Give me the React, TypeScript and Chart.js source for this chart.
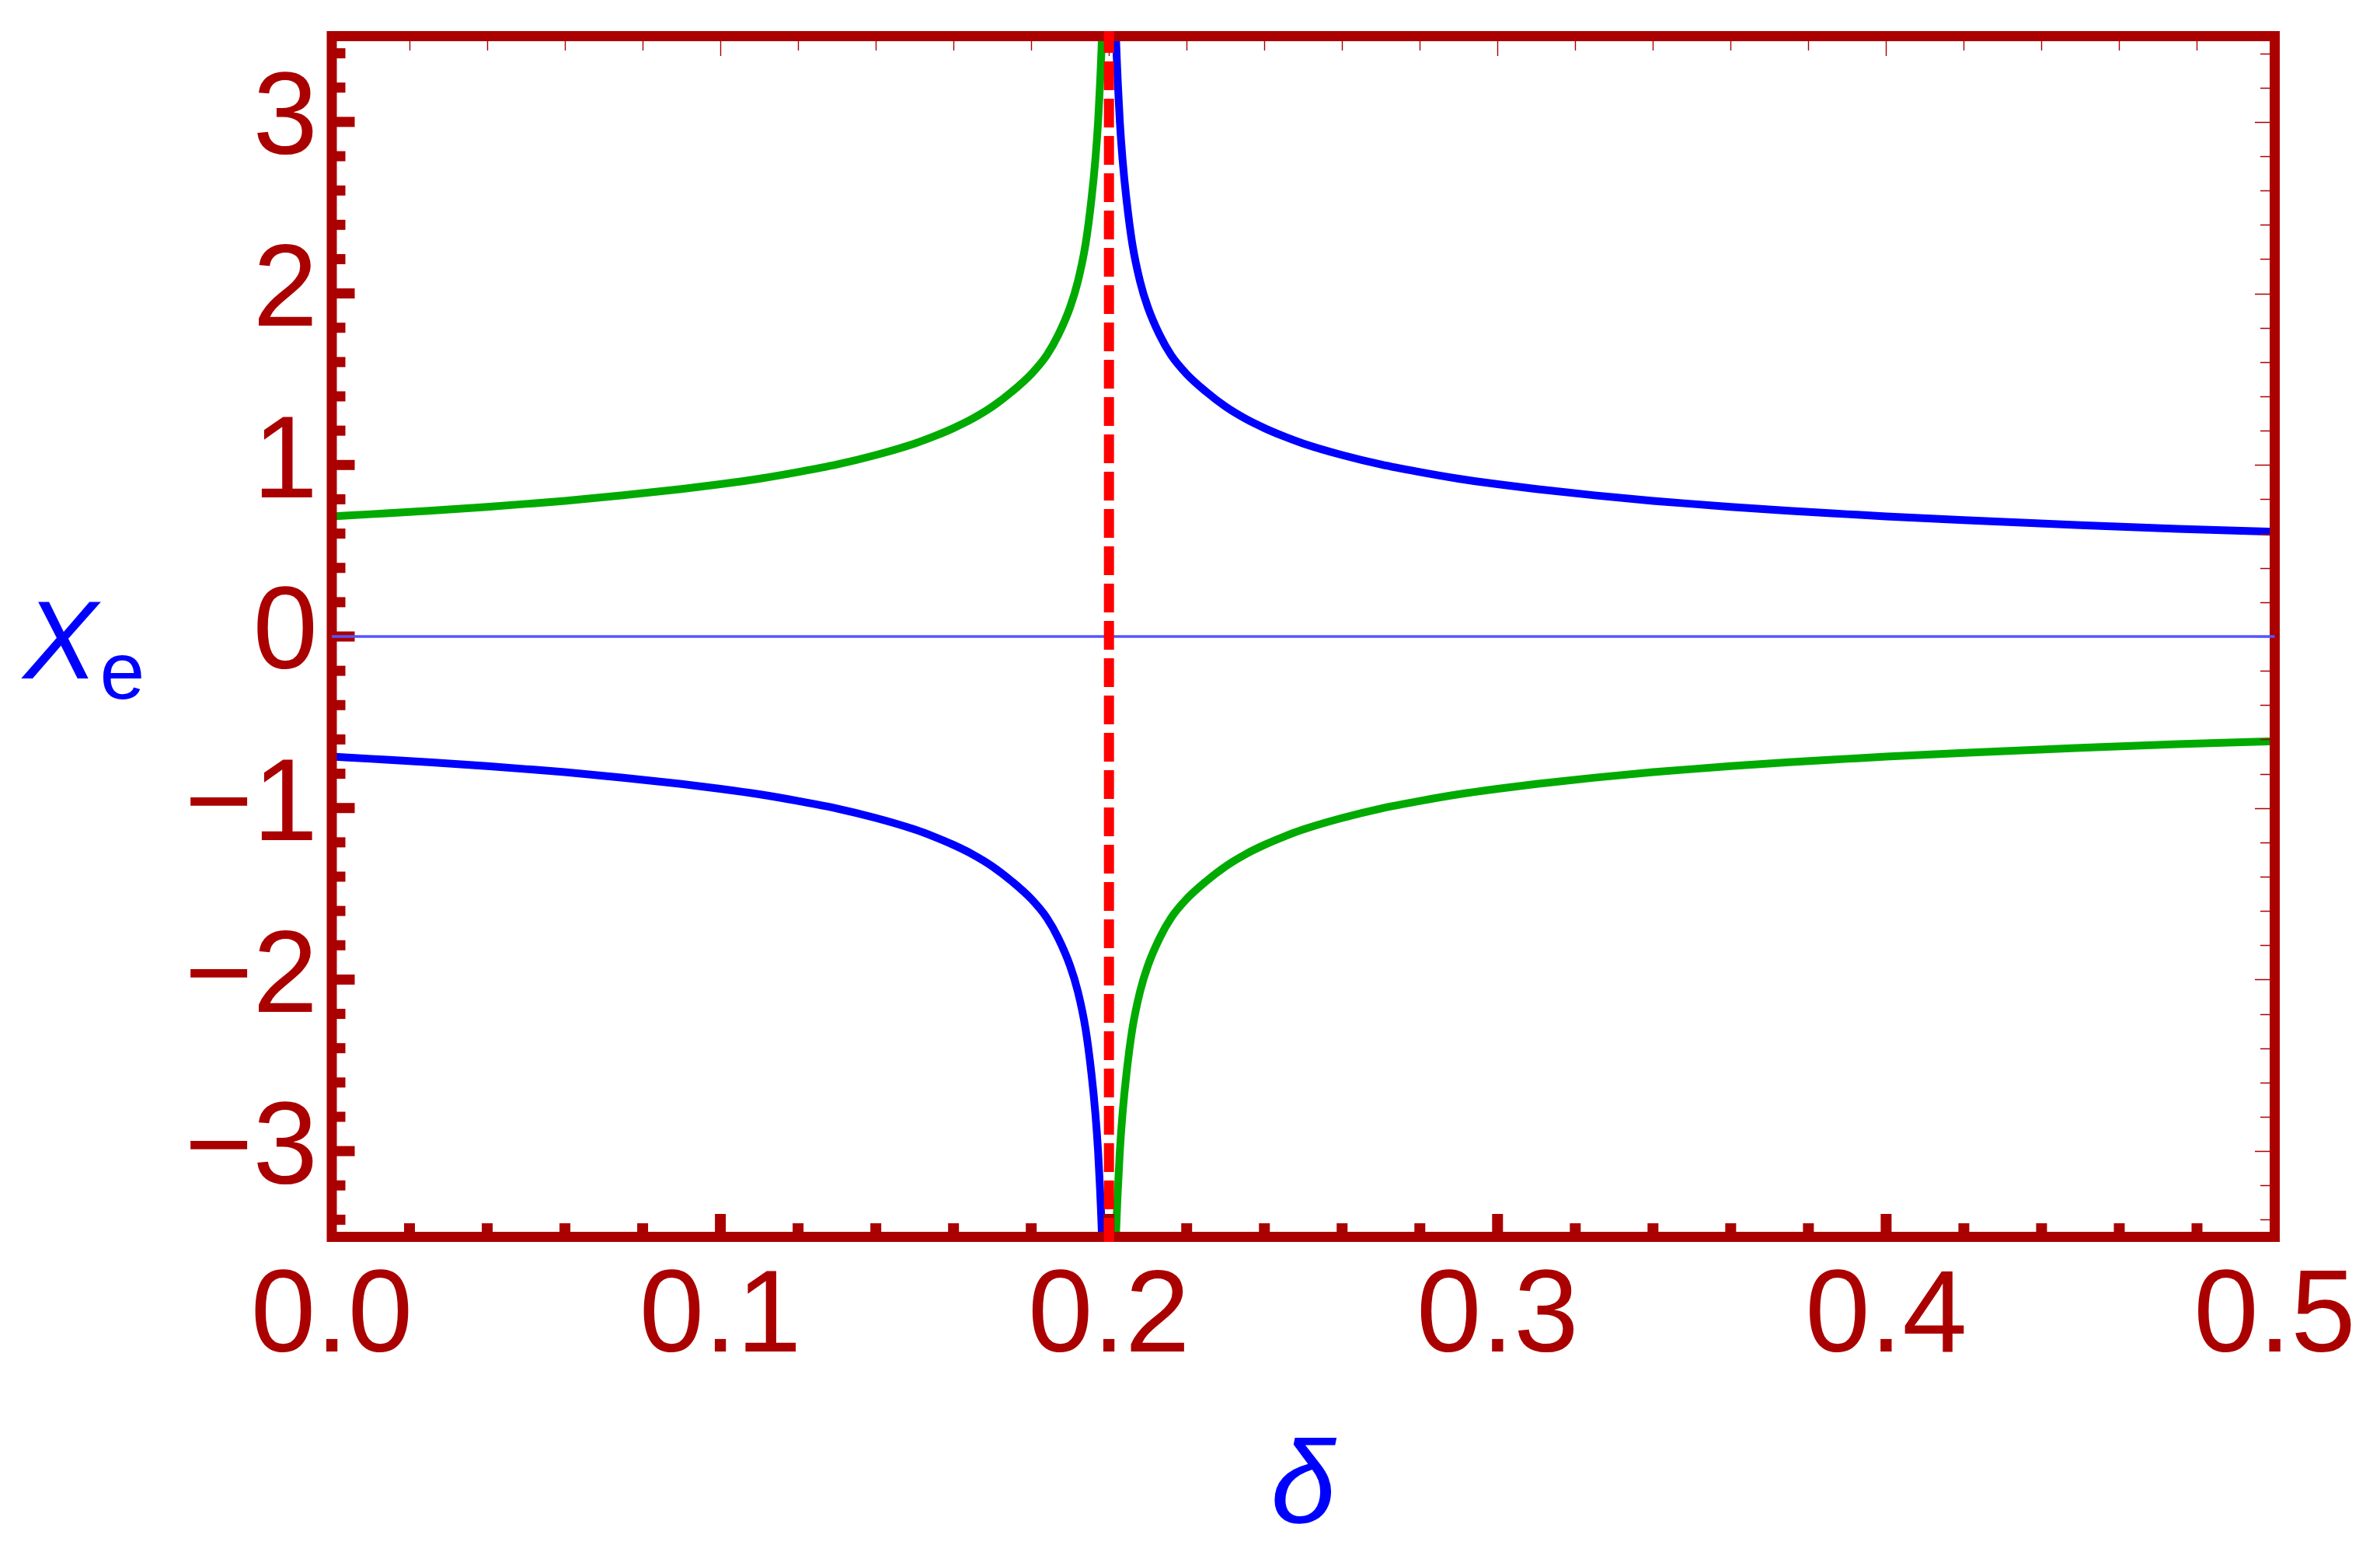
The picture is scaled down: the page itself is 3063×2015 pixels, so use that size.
import { useEffect, useRef } from 'react';
import { Chart, registerables } from 'chart.js';

Chart.register(...registerables);

// ---- data ----
// left branch (delta < 0.2)
const deltaLeft = [0, 0.01, 0.025, 0.04, 0.05, 0.06, 0.075, 0.09, 0.1, 0.11, 0.12, 0.13, 0.14, 0.15, 0.155, 0.16, 0.165, 0.17, 0.175, 0.18, 0.184, 0.187, 0.19, 0.192, 0.194, 0.1955, 0.1965, 0.1972, 0.1977, 0.1982, 0.1987];
const greenLeft = [0.700, 0.713, 0.733, 0.756, 0.773, 0.791, 0.823, 0.860, 0.888, 0.920, 0.959, 1.003, 1.058, 1.125, 1.167, 1.215, 1.271, 1.340, 1.427, 1.53, 1.64, 1.76, 1.92, 2.07, 2.29, 2.55, 2.78, 3.0, 3.22, 3.5, 3.92];
const blueLeft = [-0.700, -0.713, -0.733, -0.756, -0.773, -0.791, -0.823, -0.860, -0.888, -0.920, -0.959, -1.003, -1.058, -1.125, -1.167, -1.215, -1.271, -1.340, -1.427, -1.53, -1.64, -1.76, -1.92, -2.07, -2.29, -2.55, -2.78, -3.0, -3.22, -3.5, -3.92];
// right branch (delta > 0.2)
const deltaRight = [0.2013, 0.2018, 0.2023, 0.2028, 0.2035, 0.2045, 0.206, 0.208, 0.21, 0.213, 0.216, 0.22, 0.225, 0.23, 0.235, 0.24, 0.245, 0.25, 0.26, 0.27, 0.28, 0.29, 0.3, 0.31, 0.325, 0.34, 0.35, 0.36, 0.375, 0.39, 0.4, 0.42, 0.45, 0.475, 0.5];
const blueRight = [3.92, 3.5, 3.22, 3.0, 2.78, 2.55, 2.29, 2.07, 1.92, 1.76, 1.64, 1.53, 1.427, 1.340, 1.271, 1.215, 1.167, 1.125, 1.058, 1.003, 0.959, 0.920, 0.888, 0.860, 0.823, 0.791, 0.773, 0.756, 0.733, 0.713, 0.700, 0.678, 0.649, 0.628, 0.61];
const greenRight = [-3.92, -3.5, -3.22, -3.0, -2.78, -2.55, -2.29, -2.07, -1.92, -1.76, -1.64, -1.53, -1.427, -1.340, -1.271, -1.215, -1.167, -1.125, -1.058, -1.003, -0.959, -0.920, -0.888, -0.860, -0.823, -0.791, -0.773, -0.756, -0.733, -0.713, -0.700, -0.678, -0.649, -0.628, -0.61];

const asymptoteDelta = 0.2;
const xRange = [0, 0.5];
const yRange = [-3.5, 3.5];
const xTickValues = [0, 0.1, 0.2, 0.3, 0.4, 0.5];
const xTickLabels = ['0.0', '0.1', '0.2', '0.3', '0.4', '0.5'];
const yTickValues = [-3, -2, -1, 0, 1, 2, 3];
const yTickLabels = ['\u22123', '\u22122', '\u22121', '0', '1', '2', '3'];

const FRAME = '#AA0000';
const GREEN = '#00AA00';
const BLUE = '#0000FF';
const ZERO = '#5555FF';
const RED = '#FF0000';
const FONT = '"Liberation Sans", Arial, sans-serif';

const pts = (xs: number[], ys: number[]) => xs.map((x, i) => ({ x, y: ys[i] }));

const framePlugin = {
  id: 'mmaFrame',
  beforeDatasetDraw(chart: any, args: any) {
    if (chart.data.datasets[args.index].label !== 'zero') return;
    const { ctx, chartArea: a, scales } = chart;
    const xs = scales.x;
    const ys = scales.y;
    const fw = 13;
    ctx.save();
    ctx.strokeStyle = FRAME;
    ctx.lineWidth = fw;
    ctx.lineJoin = 'miter';
    ctx.strokeRect(a.left, a.top, a.right - a.left, a.bottom - a.top);
    ctx.fillStyle = FRAME;
    for (let k = -17; k <= 17; k++) {
      const py = ys.getPixelForValue(k * 0.2);
      const len = fw / 2 + (k % 5 === 0 ? 23 : 11);
      ctx.fillRect(a.left, py - fw / 2, len, fw);
    }
    for (let k = 1; k <= 24; k++) {
      const px = xs.getPixelForValue(k * 0.02);
      const len = fw / 2 + (k % 5 === 0 ? 23 : 11);
      ctx.fillRect(px - 7, a.bottom - len, 14, len);
    }
    ctx.strokeStyle = FRAME;
    ctx.lineWidth = 1.4;
    ctx.beginPath();
    for (let k = 1; k <= 24; k++) {
      const px = Math.round(xs.getPixelForValue(k * 0.02)) + 0.5;
      const len = k % 5 === 0 ? 19 : 12;
      ctx.moveTo(px, a.top + fw / 2);
      ctx.lineTo(px, a.top + fw / 2 + len);
    }
    for (let k = -17; k <= 17; k++) {
      const py = Math.round(ys.getPixelForValue(k * 0.2)) + 0.5;
      const len = k % 5 === 0 ? 19 : 12;
      ctx.moveTo(a.right - fw / 2, py);
      ctx.lineTo(a.right - fw / 2 - len, py);
    }
    ctx.stroke();
    ctx.restore();
  },
  afterDraw(chart: any) {
    const { ctx, scales } = chart;
    const y0 = scales.y.getPixelForValue(0);
    ctx.save();
    ctx.fillStyle = BLUE;
    ctx.textBaseline = 'alphabetic';
    ctx.textAlign = 'left';
    ctx.font = `italic 143px ${FONT}`;
    const xLeft = 30;
    const base = y0 + 54;
    ctx.fillText('X', xLeft, base);
    const w = ctx.measureText('X').width;
    ctx.font = `104px ${FONT}`;
    ctx.fillText('e', xLeft + w + 3, base + 26);
    ctx.restore();
  },
};

const zeroPad = (s: any) => {
  s.paddingTop = 0;
  s.paddingBottom = 0;
  s.paddingLeft = 0;
  s.paddingRight = 0;
};

export default function App() {
  const ref = useRef<HTMLCanvasElement | null>(null);
  useEffect(() => {
    if (!ref.current) return;
    const lineDs = (label: string, data: any[], color: string) => ({
      label,
      data,
      borderColor: color,
      backgroundColor: color,
      borderWidth: 10,
      pointRadius: 0,
      showLine: true,
      fill: false,
      cubicInterpolationMode: 'monotone' as const,
      clip: 0,
      order: 10,
    });
    const chart = new Chart(ref.current, {
      type: 'scatter',
      data: {
        datasets: [
          lineDs('greenLeft', pts(deltaLeft, greenLeft), GREEN),
          lineDs('blueLeft', pts(deltaLeft, blueLeft), BLUE),
          lineDs('blueRight', pts(deltaRight, blueRight), BLUE),
          lineDs('greenRight', pts(deltaRight, greenRight), GREEN),
          {
            label: 'zero',
            data: [{ x: xRange[0], y: 0 }, { x: xRange[1], y: 0 }],
            borderColor: ZERO,
            borderWidth: 3.5,
            pointRadius: 0,
            showLine: true,
            clip: false as any,
            order: 2,
          },
          {
            label: 'asymptote',
            data: [{ x: asymptoteDelta, y: yRange[1] }, { x: asymptoteDelta, y: yRange[0] }],
            borderColor: RED,
            borderWidth: 13,
            borderDash: [24, 24],
            borderDashOffset: 9,
            borderCapStyle: 'square',
            pointRadius: 0,
            showLine: true,
            clip: false as any,
            order: 1,
          },
        ],
      },
      options: {
        animation: false,
        responsive: false,
        devicePixelRatio: 1,
        events: [],
        layout: { padding: { top: 46.5, right: 135.5, left: 0, bottom: 0 } },
        plugins: { legend: { display: false }, tooltip: { enabled: false } },
        scales: {
          x: {
            type: 'linear',
            min: xRange[0],
            max: xRange[1],
            grid: { display: false, drawTicks: false },
            border: { display: false },
            afterBuildTicks: (s: any) => {
              s.ticks = xTickValues.map((v) => ({ value: v }));
            },
            afterFit: (s: any) => {
              s.height = 423.5;
              zeroPad(s);
            },
            ticks: {
              autoSkip: false,
              maxRotation: 0,
              minRotation: 0,
              padding: 16,
              color: FRAME,
              font: { family: FONT, size: 150 },
              callback: (_v: any, i: number) => xTickLabels[i],
            },
            title: {
              display: true,
              text: '\u03B4',
              color: BLUE,
              font: { family: FONT, size: 150, style: 'italic' },
              padding: { top: 0, bottom: 8 },
            },
          },
          y: {
            type: 'linear',
            min: yRange[0],
            max: yRange[1],
            grid: { display: false, drawTicks: false },
            border: { display: false },
            afterBuildTicks: (s: any) => {
              s.ticks = yTickValues.map((v) => ({ value: v }));
            },
            afterFit: (s: any) => {
              s.width = 427;
              zeroPad(s);
            },
            ticks: {
              autoSkip: false,
              padding: 18,
              color: FRAME,
              font: { family: FONT, size: 150 },
              callback: (_v: any, i: number) => yTickLabels[i],
            },
          },
        },
      },
      plugins: [framePlugin],
    } as any);
    return () => chart.destroy();
  }, []);
  return (
    <div style={{ position: 'absolute', left: 0, top: 0, width: 3063, height: 2015, background: '#fff' }}>
      <canvas ref={ref} width={3063} height={2015} style={{ display: 'block' }} />
    </div>
  );
}
